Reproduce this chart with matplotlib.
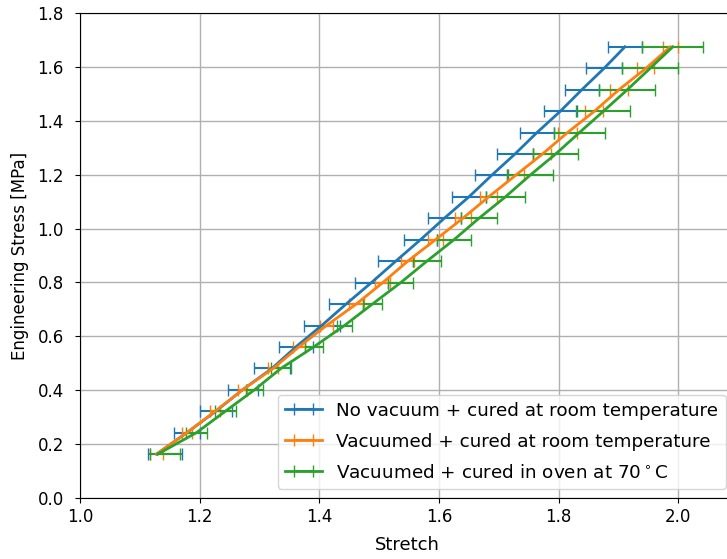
import matplotlib
matplotlib.use("Agg")
import matplotlib.pyplot as plt

stress = [0.163, 0.243, 0.322, 0.402, 0.481, 0.561, 0.640, 0.720, 0.799, 0.879,
          0.958, 1.038, 1.117, 1.197, 1.276, 1.356, 1.435, 1.515, 1.594, 1.674]

# mean stretch per sample type
no_vac_rt = [1.128, 1.179, 1.227, 1.272, 1.321, 1.361, 1.404, 1.445, 1.487, 1.528,
             1.569, 1.609, 1.650, 1.688, 1.727, 1.764, 1.803, 1.839, 1.876, 1.911]
vac_rt = [1.128, 1.179, 1.226, 1.272, 1.323, 1.366, 1.412, 1.462, 1.506, 1.548,
          1.594, 1.640, 1.683, 1.728, 1.773, 1.815, 1.860, 1.901, 1.946, 1.987]
vac_oven = [1.130, 1.195, 1.243, 1.292, 1.336, 1.391, 1.442, 1.489, 1.536, 1.580,
            1.625, 1.667, 1.711, 1.752, 1.795, 1.835, 1.875, 1.915, 1.953, 1.991]

# stretch error (lower / upper)
no_vac_rt_lo = [0.015, 0.022, 0.027, 0.025, 0.030, 0.028, 0.030, 0.028, 0.028, 0.029,
                0.028, 0.028, 0.028, 0.028, 0.030, 0.028, 0.028, 0.028, 0.030, 0.028]
no_vac_rt_hi = [0.043, 0.022, 0.027, 0.025, 0.030, 0.028, 0.030, 0.028, 0.028, 0.029,
                0.028, 0.028, 0.028, 0.028, 0.030, 0.028, 0.028, 0.028, 0.030, 0.028]
vac_rt_lo = [0.011, 0.008, 0.008, 0.008, 0.008, 0.010, 0.011, 0.012, 0.013, 0.011,
             0.013, 0.013, 0.014, 0.014, 0.015, 0.016, 0.015, 0.015, 0.014, 0.013]
vac_rt_hi = vac_rt_lo
vac_oven_lo = [0.013, 0.018, 0.018, 0.014, 0.017, 0.015, 0.013, 0.016, 0.021, 0.023,
               0.028, 0.030, 0.033, 0.038, 0.038, 0.043, 0.045, 0.047, 0.047, 0.051]
vac_oven_hi = [0.037, 0.018, 0.018, 0.014, 0.017, 0.015, 0.013, 0.016, 0.021, 0.023,
               0.028, 0.030, 0.033, 0.038, 0.038, 0.043, 0.045, 0.047, 0.047, 0.051]

labels = ["No vacuum + cured at room temperature",
          "Vacuumed + cured at room temperature",
          "Vacuumed + cured in oven at 70$^\\circ$C"]

plt.rcParams["font.size"] = 12

fig = plt.figure(figsize=(7.27, 5.59), dpi=100)
# right edge of the axes runs slightly past the figure, as in the original crop
ax = fig.add_axes([0.110, 0.109, 0.901, 0.868])

series = [(no_vac_rt, no_vac_rt_lo, no_vac_rt_hi),
          (vac_rt, vac_rt_lo, vac_rt_hi),
          (vac_oven, vac_oven_lo, vac_oven_hi)]
for (xs, lo, hi), label in zip(series, labels):
    ax.errorbar(xs, stress, xerr=[lo, hi], capsize=4, linewidth=2.0,
                elinewidth=1.5, label=label)

ax.set_xlim(1.0, 2.095)
ax.set_ylim(0.0, 1.8)
ax.set_xticks([1.0, 1.2, 1.4, 1.6, 1.8, 2.0])
ax.set_xlabel("Stretch", fontsize=13, labelpad=7)
ax.set_ylabel("Engineering Stress [MPa]", labelpad=6)
ax.tick_params(axis="y", pad=8)
ax.grid(True, linewidth=1.0)
ax.legend(loc="lower right", fontsize=13.2, labelspacing=0.7)

fig.savefig("out.png", dpi=100)
